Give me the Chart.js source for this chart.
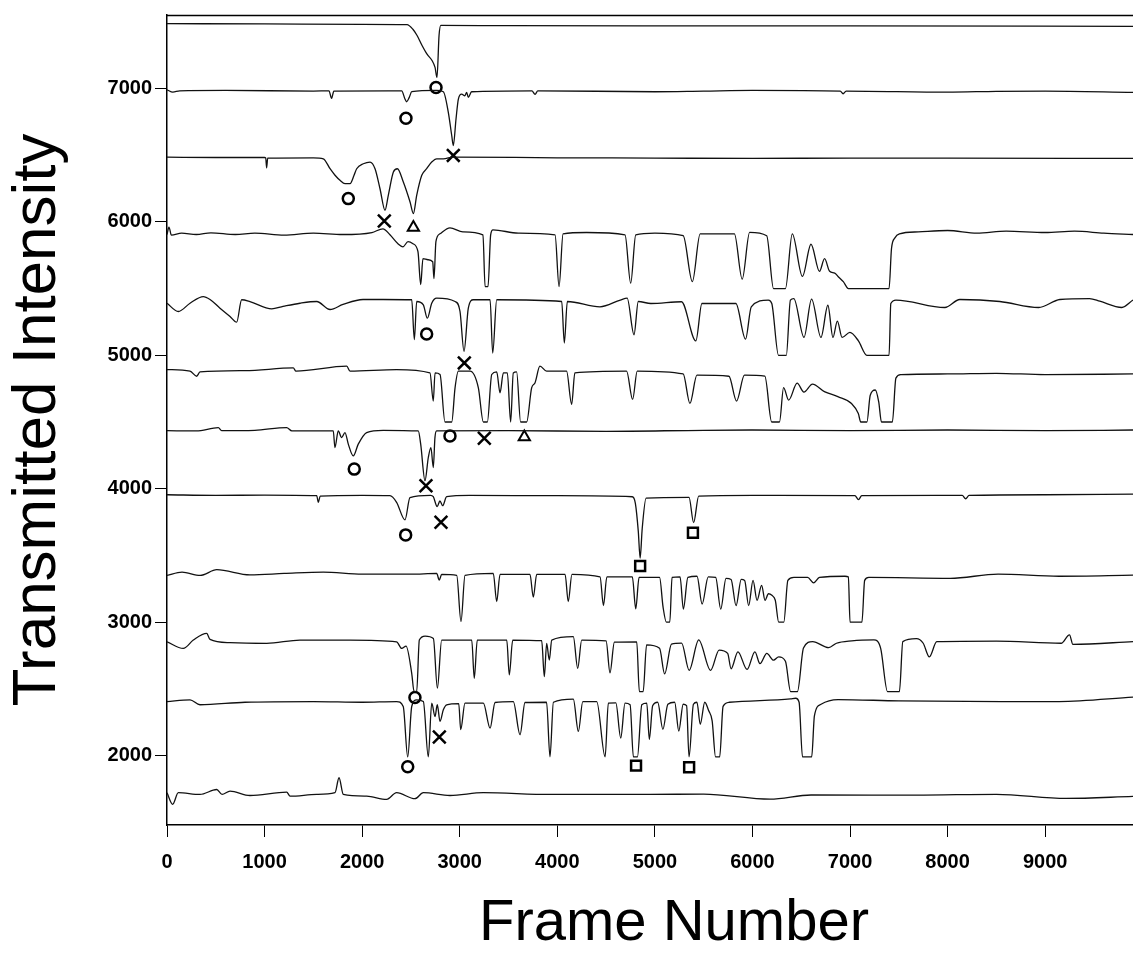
<!DOCTYPE html>
<html><head><meta charset="utf-8">
<script src="https://cdn.jsdelivr.net/npm/chart.js@4/dist/chart.umd.min.js"></script>
<style>html,body{margin:0;padding:0;background:#fff}canvas{display:block}</style>
</head><body>
<canvas id="c" width="1133" height="973"></canvas>
<script>
// ---- tick labels ----
const xTicks = [0,1000,2000,3000,4000,5000,6000,7000,8000,9000];
const yTicks = [2000,3000,4000,5000,6000,7000];

// ---- traces: [frame number, transmitted intensity] ----
const trace1 = [[0,7485],[1000,7483],[2000,7480],[2460,7478],[2520,7443],[2563,7396],[2614,7321],[2665,7256],[2716,7209],[2747,7157],[2767,7082],[2788,7396],[2806,7472],[3500,7470],[5000,7468],[7000,7468],[9900,7465]];
const trace2 = [[0,6990],[60,6972],[130,6982],[600,6985],[1500,6980],[1660,6982],[1687,6925],[1710,6980],[2405,6982],[2439,6920],[2456,6900],[2483,6933],[2508,6975],[2760,6985],[2832,6975],[2883,6821],[2918,6647],[2934,6572],[2962,6771],[2986,6920],[3020,6957],[3053,6945],[3071,6970],[3088,6933],[3122,6975],[3740,6982],[3772,6955],[3800,6982],[5000,6975],[5500,6980],[6000,6985],[6900,6980],[6929,6960],[6960,6980],[8000,6972],[8500,6978],[9000,6980],[9900,6970]];
const trace3 = [[0,6485],[500,6482],[1000,6482],[1012,6478],[1021,6405],[1032,6478],[1500,6480],[1602,6472],[1671,6398],[1722,6349],[1773,6311],[1824,6286],[1876,6286],[1917,6349],[1944,6398],[2012,6435],[2081,6448],[2132,6398],[2183,6248],[2234,6087],[2268,6199],[2320,6373],[2361,6398],[2422,6299],[2491,6149],[2525,6062],[2559,6199],[2611,6349],[2661,6398],[2713,6448],[2764,6472],[2832,6472],[2934,6485],[4000,6480],[5000,6478],[6000,6475],[7000,6478],[8000,6478],[9900,6475]];
const trace4 = [[0,5905],[20,5960],[45,5900],[150,5915],[300,5905],[450,5918],[700,5905],[900,5915],[1200,5900],[1500,5915],[1800,5905],[2100,5920],[2213,5948],[2285,5903],[2367,5836],[2418,5813],[2470,5851],[2521,5836],[2572,5776],[2600,5530],[2623,5724],[2674,5716],[2723,5701],[2736,5575],[2756,5851],[2797,5910],[2900,5955],[3033,5925],[3238,5903],[3260,5515],[3290,5515],[3317,5903],[3341,5940],[3600,5915],[3977,5903],[4018,5515],[4059,5910],[4300,5920],[4694,5903],[4752,5540],[4804,5903],[5000,5915],[5290,5896],[5384,5552],[5464,5910],[5815,5910],[5895,5570],[5971,5921],[6146,5896],[6216,5500],[6338,5500],[6408,5910],[6512,5591],[6600,5832],[6687,5629],[6739,5724],[6791,5629],[6843,5616],[6877,5591],[6931,5552],[6983,5500],[7400,5500],[7425,5800],[7460,5880],[7506,5910],[7700,5925],[8000,5935],[8300,5915],[8600,5930],[9000,5920],[9300,5930],[9600,5915],[9900,5905]];
const trace5 = [[0,5390],[116,5328],[236,5390],[372,5440],[441,5418],[543,5353],[646,5291],[714,5248],[765,5416],[850,5403],[1073,5348],[1189,5366],[1363,5390],[1534,5403],[1671,5343],[1804,5381],[2009,5418],[2214,5418],[2508,5416],[2535,5117],[2559,5403],[2627,5378],[2668,5278],[2713,5390],[2764,5428],[2952,5403],[3003,5328],[3044,5030],[3088,5353],[3139,5416],[3311,5416],[3338,5017],[3379,5416],[4045,5403],[4072,5092],[4103,5403],[4437,5363],[4646,5414],[4716,5428],[4786,5154],[4830,5403],[4959,5388],[5273,5401],[5420,5108],[5482,5388],[5830,5388],[5929,5121],[5988,5363],[6163,5414],[6198,5388],[6267,5000],[6347,5000],[6389,5414],[6424,5425],[6528,5134],[6606,5421],[6702,5134],[6773,5375],[6825,5134],[6870,5256],[6919,5134],[6999,5172],[7086,5108],[7173,5000],[7400,5000],[7418,5388],[7471,5414],[7972,5358],[8125,5418],[8535,5403],[8933,5358],[9150,5418],[9455,5425],[9560,5405],[9785,5358],[9900,5414]];
const trace6 = [[0,4893],[236,4881],[304,4843],[338,4875],[800,4885],[1294,4905],[1322,4881],[1842,4918],[1876,4881],[2353,4893],[2695,4868],[2729,4657],[2747,4868],[2798,4856],[2849,4500],[2918,4500],[2952,4756],[2986,4881],[3106,4881],[3191,4756],[3242,4500],[3283,4500],[3328,4856],[3379,4875],[3413,4719],[3447,4868],[3488,4868],[3522,4500],[3549,4868],[3583,4875],[3624,4500],[3686,4500],[3737,4756],[3771,4793],[3822,4918],[3890,4881],[4095,4881],[4147,4632],[4180,4868],[4710,4881],[4772,4669],[4819,4881],[5290,4860],[5359,4639],[5431,4851],[5759,4843],[5837,4657],[5918,4851],[6127,4843],[6197,4500],[6277,4500],[6319,4758],[6371,4664],[6458,4791],[6527,4724],[6615,4784],[6737,4728],[6875,4690],[7015,4639],[7085,4563],[7110,4500],[7173,4500],[7207,4700],[7259,4740],[7294,4651],[7322,4500],[7434,4500],[7470,4829],[7521,4855],[8000,4860],[8500,4865],[9000,4855],[9900,4860]];
const trace7 = [[0,4435],[300,4433],[526,4458],[560,4435],[900,4438],[1226,4458],[1280,4433],[1704,4433],[1721,4308],[1755,4433],[1790,4383],[1824,4421],[1858,4334],[1909,4246],[1960,4334],[2046,4421],[2216,4438],[2575,4433],[2600,4334],[2644,4060],[2678,4234],[2705,4308],[2729,4159],[2746,4383],[2763,4433],[3500,4435],[4500,4430],[5500,4438],[6000,4440],[7000,4435],[8000,4440],[9000,4435],[9900,4440]];
const trace8 = [[0,3955],[500,3950],[1000,3952],[1534,3948],[1551,3898],[1570,3945],[2000,3950],[2285,3948],[2353,3898],[2439,3767],[2490,3933],[2700,3950],[2729,3940],[2769,3866],[2797,3908],[2825,3873],[2866,3940],[3100,3950],[4000,3948],[4769,3940],[4800,3890],[4830,3680],[4849,3480],[4870,3700],[4910,3930],[5350,3935],[5397,3746],[5449,3945],[6000,3950],[7050,3948],[7087,3918],[7120,3948],[8150,3950],[8185,3925],[8220,3950],[9000,3955],[9900,3960]];
const trace9 = [[0,3350],[154,3375],[340,3350],[510,3393],[850,3355],[1200,3365],[1602,3375],[2000,3360],[2500,3360],[2764,3365],[2790,3316],[2815,3358],[2969,3350],[3013,3004],[3054,3350],[3344,3365],[3379,3154],[3413,3358],[3720,3358],[3754,3187],[3789,3358],[4080,3358],[4112,3154],[4150,3358],[4438,3339],[4473,3124],[4508,3339],[4769,3339],[4804,3100],[4838,3335],[5048,3335],[5084,3112],[5118,3000],[5153,3000],[5176,3335],[5258,3339],[5292,3098],[5338,3335],[5432,3344],[5484,3136],[5547,3339],[5623,3335],[5675,3098],[5729,3328],[5781,3320],[5832,3124],[5885,3320],[5920,3313],[5961,3124],[6006,3313],[6047,3164],[6094,3276],[6129,3164],[6164,3213],[6199,3201],[6234,3164],[6269,3000],[6321,3000],[6363,3313],[6425,3335],[6565,3335],[6627,3294],[6687,3335],[6948,3344],[6983,3340],[7000,3000],[7122,3000],[7150,3313],[7192,3335],[8028,3328],[8517,3360],[9143,3344],[9900,3352]];
const trace10 = [[0,2853],[167,2803],[270,2866],[407,2916],[441,2871],[646,2846],[1022,2841],[1363,2866],[1876,2866],[2353,2853],[2405,2803],[2450,2820],[2508,2617],[2532,2480],[2559,2480],[2586,2866],[2645,2896],[2730,2878],[2771,2505],[2815,2866],[3123,2866],[3149,2580],[3180,2866],[3482,2866],[3508,2605],[3543,2866],[3840,2861],[3867,2592],[3891,2841],[3918,2716],[3943,2866],[4164,2891],[4209,2654],[4250,2866],[4500,2860],[4540,2620],[4585,2850],[4814,2853],[4841,2480],[4880,2480],[4915,2830],[5048,2804],[5100,2612],[5170,2836],[5274,2843],[5351,2639],[5449,2867],[5571,2639],[5658,2791],[5746,2766],[5781,2651],[5851,2778],[5945,2646],[6025,2778],[6077,2689],[6147,2766],[6216,2715],[6269,2740],[6338,2707],[6391,2480],[6461,2480],[6523,2806],[6617,2854],[6781,2809],[6861,2842],[7018,2860],[7245,2867],[7314,2804],[7384,2480],[7506,2480],[7541,2854],[7680,2876],[7750,2842],[7813,2740],[7889,2854],[8500,2858],[9164,2842],[9249,2905],[9284,2834],[9900,2854]];
const trace11 = [[0,2405],[236,2418],[338,2381],[800,2400],[1500,2405],[2000,2400],[2353,2405],[2421,2368],[2467,1990],[2508,2368],[2559,2418],[2627,2405],[2678,1990],[2713,2393],[2747,2293],[2770,2381],[2798,2256],[2832,2343],[2866,2381],[2990,2390],[3010,2194],[3054,2393],[3242,2393],[3311,2206],[3362,2398],[3549,2405],[3618,2157],[3669,2398],[3890,2400],[3925,1990],[3960,2400],[4164,2423],[4216,2181],[4261,2405],[4404,2405],[4490,1990],[4523,2393],[4600,2395],[4650,2132],[4694,2393],[4746,2381],[4780,1990],[4821,1990],[4866,2381],[4917,2393],[4943,2121],[4977,2374],[5029,2400],[5082,2197],[5133,2385],[5203,2400],[5245,2184],[5290,2385],[5325,2374],[5350,1990],[5395,2385],[5431,2400],[5465,2235],[5511,2400],[5552,2336],[5587,2261],[5622,1990],[5664,1990],[5699,2369],[5763,2400],[6390,2425],[6443,2430],[6478,2400],[6513,1990],[6607,1990],[6635,2298],[6703,2385],[6878,2420],[7500,2410],[8553,2405],[9143,2405],[9900,2438]];
const trace12 = [[0,1722],[58,1635],[116,1722],[338,1709],[509,1746],[564,1709],[646,1734],[850,1701],[1227,1726],[1261,1696],[1534,1709],[1722,1722],[1763,1834],[1807,1709],[2046,1696],[2251,1672],[2353,1722],[2541,1677],[2627,1722],[2900,1701],[3242,1722],[3925,1709],[4950,1709],[5500,1712],[6181,1674],[6600,1705],[7680,1704],[8500,1710],[9214,1679],[9900,1694]];

// ---- event markers ----
const markCircle   = [[2757,7007],[2449,6776],[1858,6174],[2661,5159],[1919,4147],[2900,4396],[2446,3654],[2541,2435],[2467,1916]];
const markCross    = [[2934,6498],[2227,6007],[3047,4943],[2654,4022],[3252,4378],[2808,3748],[2791,2140]];
const markTriangle = [[2525,5957],[3662,4388]];
const markSquare   = [[4849,3421],[5390,3670],[4807,1925],[5351,1913]];

const traces = [trace1,trace2,trace3,trace4,trace5,trace6,trace7,trace8,trace9,trace10,trace11,trace12];
const toXY = arr => arr.map(([x,y]) => ({x, y}));
const FONT = '"Liberation Sans", Arial, Helvetica, sans-serif';

const lineSets = traces.map((t,i) => ({
  type: 'line', label: 'Trace ' + (i+1), data: toXY(t),
  borderColor: '#111', borderWidth: 1.3, pointRadius: 0, fill: false,
  cubicInterpolationMode: 'monotone', borderJoinStyle: 'round'
}));
const markerSet = (data, style, r, bw, label) => ({
  type: 'scatter', label, data: toXY(data), showLine: false,
  pointStyle: style, pointRadius: r, borderColor: '#000', backgroundColor: 'rgba(0,0,0,0)',
  borderWidth: bw, pointHoverRadius: r
});

const framePlugin = {
  id: 'frameAndTitle',
  afterDraw(chart) {
    const {ctx, chartArea: a} = chart;
    ctx.save();
    ctx.strokeStyle = '#000';
    ctx.lineWidth = 1.5;
    ctx.beginPath();
    ctx.moveTo(a.left, a.top + 0.5);
    ctx.lineTo(a.right, a.top + 0.5);
    ctx.stroke();
    ctx.font = '58px ' + FONT;
    ctx.fillStyle = '#000';
    ctx.textAlign = 'center';
    ctx.textBaseline = 'alphabetic';
    ctx.fillText('Frame Number', a.left + 507, 940);
    ctx.restore();
  }
};

new Chart(document.getElementById('c'), {
  type: 'line',
  data: {
    datasets: [
      ...lineSets,
      markerSet(markCircle, 'circle', 5.5, 2.5, 'o'),
      markerSet(markCross, 'crossRot', 9, 2.5, 'X'),
      markerSet(markTriangle, 'triangle', 6.5, 2, 'Δ'),
      markerSet(markSquare, 'rect', 7, 2.5, '□')
    ]
  },
  options: {
    responsive: false,
    animation: false,
    events: [],
    layout: { autoPadding: false, padding: { top: 12, right: 0, left: 0, bottom: 0 } },
    plugins: { legend: { display: false }, tooltip: { enabled: false } },
    scales: {
      x: {
        type: 'linear', min: 0, max: 9900,
        afterBuildTicks: s => { s.ticks = xTicks.map(v => ({value: v})); },
        afterFit: s => { s.height = 148; },
        ticks: { color: '#000', padding: 13, maxRotation: 0, autoSkip: false,
                 font: { family: FONT, size: 20, weight: 'bold' }, callback: v => String(v) },
        grid: { drawOnChartArea: false, drawTicks: true, tickLength: 12, color: '#000', tickWidth: 1 },
        border: { display: true, color: '#000', width: 1.5 }
      },
      y: {
        type: 'linear', min: 1480, max: 7550,
        afterBuildTicks: s => { s.ticks = yTicks.map(v => ({value: v})); },
        afterFit: s => { s.width = 167; },
        ticks: { color: '#000', padding: 3, autoSkip: false,
                 font: { family: FONT, size: 20, weight: 'bold' }, callback: v => String(v) },
        grid: { drawOnChartArea: false, drawTicks: true, tickLength: 12, color: '#000', tickWidth: 1 },
        border: { display: true, color: '#000', width: 1.5 },
        title: { display: true, text: 'Transmitted Intensity', color: '#000',
                 font: { family: FONT, size: 62, weight: 'normal' }, padding: { top: 1, bottom: 0 } }
      }
    }
  },
  plugins: [framePlugin]
});
</script>
</body></html>
